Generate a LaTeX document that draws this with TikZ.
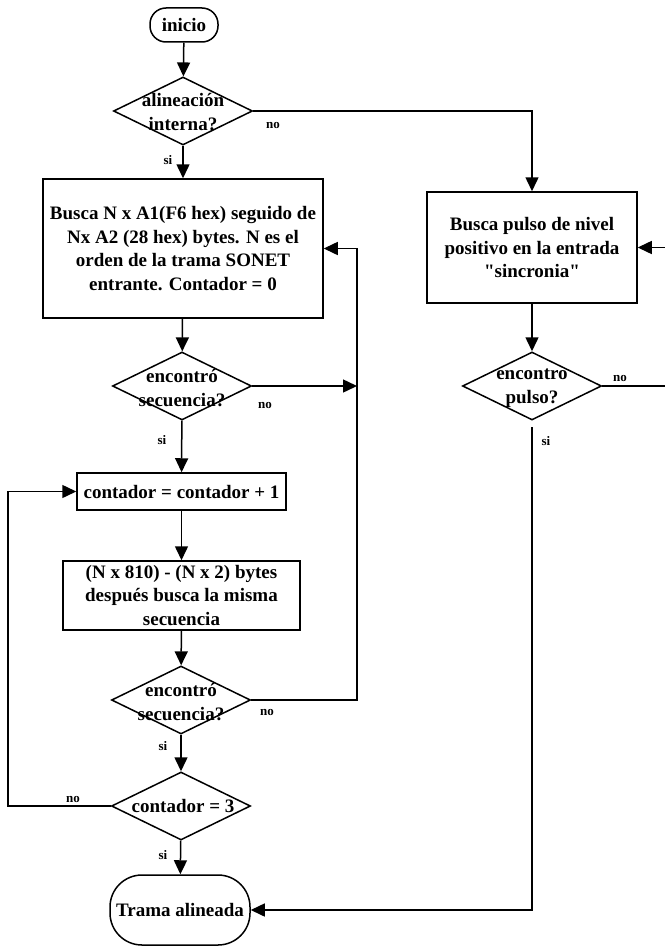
\documentclass[tikz,border=0pt]{standalone}
\usepackage{fontspec}
\setmainfont{Liberation Serif}
\usetikzlibrary{shapes.geometric,arrows.meta}

\begin{document}
\begin{tikzpicture}[x=1pt, y={(0pt,-1pt)}, line width=1.5pt,
		font=\fontsize{19}{23.5}\selectfont\bfseries,
		>={Triangle[length=14pt,width=13pt]},
		proc/.style={draw, rectangle, align=center, inner sep=0pt},
		term/.style={draw, rectangle, rounded corners=#1, inner sep=0pt},
		dec/.style={draw, diamond, inner sep=0pt, minimum width=139pt, minimum height=68pt},
		dectext/.style={align=center, inner sep=0pt},
		lbl/.style={font=\fontsize{13}{14}\selectfont\bfseries, inner sep=0pt}]
	\useasboundingbox (0,0) rectangle (664,947);
	% columna izquierda
	\node[term=16pt, minimum width=68pt, minimum height=34pt] (inicio) at (184,25) {inicio};
	\node[dec] (d1) at (183,111) {};
	\node[dectext] at (183,112) {alineación\\interna?};
	\node[proc, minimum width=280pt, minimum height=139pt] (b1) at (183,248.5) {Busca N x A1(F6 hex) seguido de\\Nx A2 (28 hex) bytes. N es el\\orden de la trama SONET\\entrante. Contador = 0};
	\node[dec] (d2) at (182,386) {};
	\node[dectext] at (182,388) {encontró\\secuencia?};
	\node[proc, minimum width=209pt, minimum height=37pt] (cont) at (181.5,491.5) {contador = contador + 1};
	\node[proc, minimum width=237pt, minimum height=69pt] (b3) at (181.5,595.5) {(N x 810) - (N x 2) bytes\\después busca la misma\\secuencia};
	\node[dec] (d3) at (181,700) {};
	\node[dectext] at (181,702) {encontró\\secuencia?};
	\node[dec] (d4) at (181,806) {};
	\node[dectext] at (183,806) {contador = 3};
	\node[term=32pt, minimum width=140pt, minimum height=70pt] (trama) at (180,910) {Trama alineada};
	% columna derecha
	\node[proc, minimum width=210pt, minimum height=111pt] (rb) at (532,247.5) {Busca pulso de nivel\\positivo en la entrada\\\textquotedbl sincronia\textquotedbl};
	\node[dec] (rd) at (532,386) {};
	\node[dectext] at (532,388) {encontro\\pulso?};
	% puntos de paso
	\coordinate (j2) at (357,386);
	\coordinate (j3) at (357,700);
	\coordinate (jb) at (357,248.5);
	\coordinate (l4) at (8,806);
	\coordinate (lc) at (8,491.5);
	\coordinate (o1) at (672,386);
	\coordinate (o2) at (672,247.5);
	\coordinate (rs) at (532,427);
	% conectores
	\draw[->] (inicio) -- (d1);
	\draw[->] (d1) -- (b1);
	\draw[->] (d1.east) -| (rb.north);
	\draw[->] (b1) -- (d2);
	\draw[->] (d2.east) -- (j2);
	\draw[->] (d2) -- (cont);
	\draw[->] (cont) -- (b3);
	\draw[->] (b3) -- (d3);
	\draw[->] (d3.east) -- (j3) -- (jb) -- (b1.east);
	\draw[->] (d3) -- (d4);
	\draw[->] (d4.west) -- (l4) -- (lc) -- (cont.west);
	\draw[->] (d4) -- (trama);
	\draw[->] (rb) -- (rd);
	\draw[->] (rd.east) -- (o1) -- (o2) -- (rb.east);
	\draw[->] (rs) |- (trama.east);
	% etiquetas
	\node[lbl] at (273,126) {no};
	\node[lbl] at (168,160) {si};
	\node[lbl] at (265,405) {no};
	\node[lbl] at (162,440) {si};
	\node[lbl] at (267,712) {no};
	\node[lbl] at (163,746) {si};
	\node[lbl] at (73,799) {no};
	\node[lbl] at (163,855) {si};
	\node[lbl] at (620,378) {no};
	\node[lbl] at (546,441) {si};
\end{tikzpicture}
\end{document}
